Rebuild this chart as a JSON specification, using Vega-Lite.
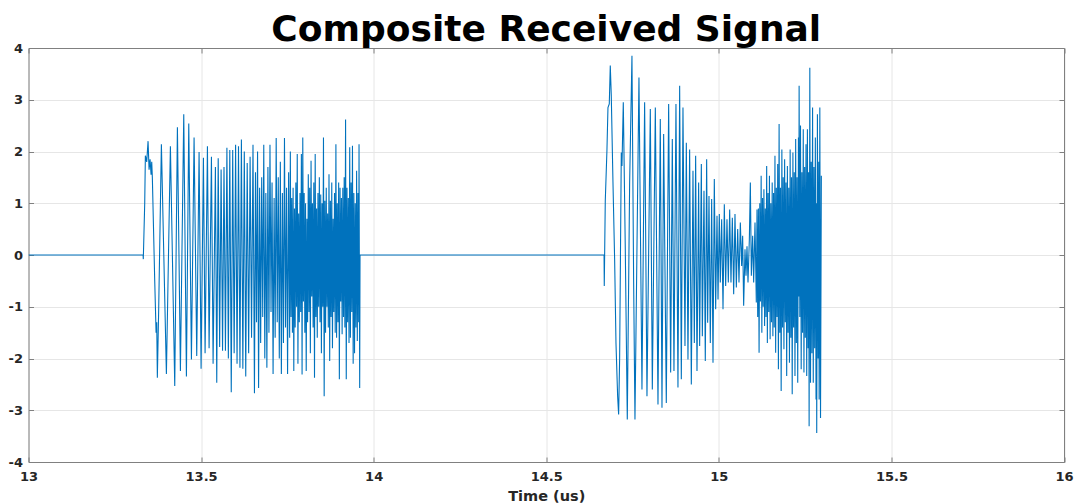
{
  "$schema": "https://vega.github.io/schema/vega-lite/v6.json",
  "autosize": "none",
  "width": 1035.5,
  "height": 414,
  "padding": {"left": 28.5, "top": 48, "right": 14, "bottom": 42},
  "background": "white",
  "title": {"text": "Composite Received Signal", "font": "DejaVu Sans", "fontSize": 36, "fontWeight": "bold", "color": "#000000", "anchor": "middle", "offset": 6, "dy": 13},
  "config": {
    "view": {"stroke": null},
    "axis": {"labelFont": "DejaVu Sans", "labelFontWeight": "bold", "labelFontSize": 13, "labelColor": "#262626", "titleFont": "DejaVu Sans", "titleFontWeight": "bold", "titleFontSize": 14.5, "titleColor": "#262626", "domainColor": "#808080", "tickColor": "#808080", "gridColor": "#e6e6e6", "gridWidth": 1}
  },
  "layer": [
    {
      "data": {"values": [
        {"t":13,"v":0},{"t":13.332,"v":0},{"t":13.3326,"v":-0.08},{"t":13.3367,"v":1.0},{"t":13.3386,"v":1.92},{"t":13.3425,"v":1.8},{"t":13.3464,"v":2.2},{"t":13.3493,"v":1.65},{"t":13.3522,"v":1.85},{"t":13.3551,"v":1.55},{"t":13.357,"v":1.8},{"t":13.3588,"v":1.5},{"t":13.3657,"v":-0.5},{"t":13.3696,"v":-1.5},{"t":13.3715,"v":-1.3},{"t":13.3733,"v":-2.37},{"t":13.3773,"v":-1.0},{"t":13.385,"v":2.14},{"t":13.3995,"v":-2.3},{"t":13.4111,"v":2.1},{"t":13.4237,"v":-2.53},{"t":13.4314,"v":2.47},{"t":13.4401,"v":-2.24},{"t":13.4498,"v":2.72},{"t":13.4575,"v":-2.35},{"t":13.4643,"v":2.54},{"t":13.472,"v":-2.02},{"t":13.4797,"v":2.27},{"t":13.4874,"v":-1.95},{"t":13.4942,"v":1.99},{"t":13.5,"v":-2.2},{"t":13.5068,"v":1.88},{"t":13.5116,"v":-1.9},{"t":13.5184,"v":2.1},{"t":13.5232,"v":-1.8},{"t":13.53,"v":1.9},{"t":13.5348,"v":-2.1},{"t":13.5415,"v":1.7},{"t":13.5454,"v":-2.47},
        {"t":13.5496,"v":1.87},{"t":13.5538,"v":-1.78},{"t":13.558,"v":1.65},{"t":13.5622,"v":-1.85},{"t":13.5664,"v":1.7},{"t":13.5706,"v":-1.85},{"t":13.5748,"v":2.07},{"t":13.579,"v":-2.0},{"t":13.5832,"v":2.03},{"t":13.5874,"v":-2.65},{"t":13.5916,"v":2.03},{"t":13.5958,"v":-1.9},{"t":13.6,"v":2.13},{"t":13.6042,"v":-2.1},{"t":13.6084,"v":2.1},{"t":13.6126,"v":-2.18},{"t":13.6168,"v":2.23},{"t":13.621,"v":-2.2},{"t":13.6252,"v":2.0},{"t":13.6294,"v":-2.35},{"t":13.6336,"v":1.78},{"t":13.6378,"v":-1.9},{"t":13.642,"v":1.9},{"t":13.6462,"v":-1.6},{"t":13.6504,"v":2.13},{"t":13.6546,"v":-2.67},
        {"t":13.6576,"v":1.6},{"t":13.6606,"v":-1.3},{"t":13.6636,"v":2.0},{"t":13.6666,"v":-2.57},{"t":13.6696,"v":1.3},{"t":13.6726,"v":-1.7},{"t":13.6756,"v":1.5},{"t":13.6786,"v":-1.2},{"t":13.6816,"v":2.13},{"t":13.6846,"v":-2.0},{"t":13.6876,"v":1.2},{"t":13.6906,"v":-2.18},{"t":13.6936,"v":1.7},{"t":13.6966,"v":-1.5},{"t":13.6996,"v":2.13},{"t":13.7026,"v":-1.1},{"t":13.7056,"v":1.4},{"t":13.7086,"v":-2.3},{"t":13.7116,"v":1.1},{"t":13.7146,"v":-1.6},{"t":13.7176,"v":2.26},{"t":13.7206,"v":-1.3},{"t":13.7236,"v":1.5},{"t":13.7266,"v":-2.0},{"t":13.7296,"v":1.8},{"t":13.7326,"v":-2.3},{"t":13.7356,"v":1.2},{"t":13.7386,"v":-1.7},{"t":13.7416,"v":2.26},{"t":13.7446,"v":-1.4},{"t":13.7476,"v":1.3},{"t":13.7506,"v":-2.3},{"t":13.7536,"v":1.6},{"t":13.7566,"v":-1.6},
        {"t":13.7586,"v":2.0},{"t":13.7606,"v":-1.2},{"t":13.7626,"v":1.1},{"t":13.7646,"v":-1.5},{"t":13.7666,"v":1.3},{"t":13.7686,"v":-2.24},{"t":13.7706,"v":0.9},{"t":13.7726,"v":-1.4},{"t":13.7746,"v":1.4},{"t":13.7766,"v":-1.0},{"t":13.7786,"v":1.95},{"t":13.7806,"v":-2.1},{"t":13.7826,"v":0.8},{"t":13.7846,"v":-1.3},{"t":13.7866,"v":1.2},{"t":13.7886,"v":-1.1},{"t":13.7906,"v":1.95},{"t":13.7926,"v":-2.31},{"t":13.7946,"v":2.27},{"t":13.7966,"v":-0.9},{"t":13.7986,"v":1.2},{"t":13.8006,"v":-1.5},{"t":13.8026,"v":1.0},{"t":13.8046,"v":-2.24},{"t":13.8066,"v":0.7},{"t":13.8086,"v":-1.3},{"t":13.8106,"v":1.56},{"t":13.8126,"v":-1.1},{"t":13.8146,"v":1.3},{"t":13.8166,"v":-1.9},{"t":13.8186,"v":1.82},{"t":13.8206,"v":-0.8},{"t":13.8226,"v":1.0},{"t":13.8246,"v":-1.4},{"t":13.8266,"v":1.4},{"t":13.8286,"v":-2.37},{"t":13.8306,"v":1.95},{"t":13.8326,"v":-1.2},{"t":13.8346,"v":0.9},{"t":13.8366,"v":-1.6},{"t":13.8386,"v":1.2},{"t":13.8406,"v":-1.0},{"t":13.8426,"v":1.5},{"t":13.8446,"v":-1.3},{"t":13.8466,"v":1.17},{"t":13.8486,"v":-1.9},{"t":13.8506,"v":1.0},{"t":13.8526,"v":-1.0},{"t":13.8546,"v":2.27},{"t":13.8566,"v":-2.73},{"t":13.8586,"v":1.05},{"t":13.8606,"v":-1.5},{"t":13.8626,"v":1.3},{"t":13.8646,"v":-1.0},{"t":13.8666,"v":0.8},{"t":13.8686,"v":-1.4},{"t":13.8706,"v":1.56},{"t":13.8726,"v":-2.05},{"t":13.8746,"v":1.05},{"t":13.8766,"v":-1.2},{"t":13.8786,"v":1.4},{"t":13.8806,"v":-1.8},{"t":13.8826,"v":0.7},{"t":13.8846,"v":-1.1},{"t":13.8866,"v":1.2},{"t":13.8886,"v":-1.5},{"t":13.8906,"v":2.14},{"t":13.8926,"v":-1.6},{"t":13.8946,"v":1.0},{"t":13.8966,"v":-1.3},{"t":13.8986,"v":1.4},{"t":13.9006,"v":-2.4},{"t":13.9026,"v":1.3},{"t":13.9046,"v":-0.9},{"t":13.9066,"v":1.1},{"t":13.9086,"v":-1.53},{"t":13.9106,"v":1.3},{"t":13.9126,"v":-1.2},{"t":13.9146,"v":1.5},{"t":13.9166,"v":-1.4},{"t":13.9186,"v":2.62},{"t":13.9206,"v":-2.4},{"t":13.9226,"v":1.3},{"t":13.9246,"v":-1.3},{"t":13.9266,"v":1.1},{"t":13.9286,"v":-1.7},{"t":13.9306,"v":2.08},{"t":13.9326,"v":-1.6},{"t":13.9346,"v":1.4},{"t":13.9366,"v":-1.1},{"t":13.9386,"v":2.11},{"t":13.9406,"v":-2.1},{"t":13.9426,"v":1.2},{"t":13.9446,"v":-1.9},{"t":13.9466,"v":1.0},{"t":13.9486,"v":-1.4},{"t":13.9506,"v":1.63},{"t":13.9526,"v":-1.66},{"t":13.9546,"v":1.2},{"t":13.9566,"v":-1.3},{"t":13.9576,"v":2.14},{"t":13.9595,"v":-2.57},{"t":13.9605,"v":0},
        {"t":14.6675,"v":0},{"t":14.6681,"v":-0.6},{"t":14.671,"v":1.04},{"t":14.6759,"v":2.04},{"t":14.6788,"v":2.85},{"t":14.6826,"v":2.92},{"t":14.6855,"v":3.66},{"t":14.6884,"v":3.08},{"t":14.6933,"v":1.4},{"t":14.6981,"v":-0.08},{"t":14.702,"v":-1.7},{"t":14.7068,"v":-2.73},{"t":14.7097,"v":-3.08},{"t":14.7126,"v":-2.0},{"t":14.7174,"v":1.98},{"t":14.7194,"v":1.72},{"t":14.7232,"v":2.95},{"t":14.729,"v":0.11},{"t":14.7348,"v":-3.18},{"t":14.7416,"v":1.4},{"t":14.7483,"v":3.85},{"t":14.7532,"v":-0.53},{"t":14.757,"v":-3.18},{"t":14.7686,"v":3.43},{"t":14.7773,"v":-2.6},{"t":14.785,"v":2.95},{"t":14.7918,"v":-2.73},{"t":14.8015,"v":2.82},{"t":14.8073,"v":-2.6},{"t":14.816,"v":2.85},{"t":14.8237,"v":-2.89},{"t":14.8304,"v":2.63},{"t":14.8353,"v":-2.95},{"t":14.8401,"v":2.34},{"t":14.8478,"v":-2.86},{"t":14.8546,"v":2.92},{"t":14.8604,"v":-2.27},{"t":14.8652,"v":2.24},{"t":14.87,"v":-2.24},{"t":14.8758,"v":2.92},{"t":14.8816,"v":-2.56},{"t":14.8865,"v":3.27},{"t":14.8913,"v":-2.4},{"t":14.8961,"v":2.85},{"t":14.9019,"v":-1.76},{"t":14.9058,"v":2.17},{"t":14.9106,"v":-2.02},{"t":14.9154,"v":2.04},{"t":14.9203,"v":-2.5},{"t":14.9251,"v":1.63},{"t":14.929,"v":-1.7},{"t":14.9328,"v":1.92},{"t":14.9367,"v":-2.24},{"t":14.9415,"v":1.4},{"t":14.9444,"v":-1.76},{"t":14.9493,"v":1.76},{"t":14.9522,"v":-1.57},{"t":14.957,"v":1.24},{"t":14.9608,"v":-2.05},{"t":14.9647,"v":1.85},{"t":14.9676,"v":-1.31},{"t":14.9715,"v":1.14},{"t":14.9753,"v":-1.7},{"t":14.9792,"v":1.08},{"t":14.9831,"v":-2.08},{"t":14.9869,"v":1.47},{"t":14.9908,"v":-1.05},{"t":14.9947,"v":0.76},{"t":14.9976,"v":-0.86},{"t":15.0014,"v":0.79},{"t":15.0043,"v":-0.53},{"t":15.0082,"v":0.69},{"t":15.0121,"v":-1.05},{"t":15.0159,"v":0.98},{"t":15.0198,"v":-0.6},{"t":15.0236,"v":0.69},{"t":15.0275,"v":-0.53},{"t":15.0314,"v":0.88},{"t":15.0352,"v":-0.53},{"t":15.0391,"v":0.72},{"t":15.043,"v":-0.76},{"t":15.0468,"v":0.79},{"t":15.0507,"v":-0.63},{"t":15.0546,"v":0.5},{"t":15.0584,"v":-0.53},{"t":15.0623,"v":0.63},{"t":15.0661,"v":-0.21},{"t":15.069,"v":0.37},{"t":15.0719,"v":-0.98},{"t":15.0758,"v":0.11},{"t":15.0787,"v":-0.4},{"t":15.0816,"v":0.17},{"t":15.0845,"v":-0.53},{"t":15.0884,"v":0.3},{"t":15.0913,"v":1.4},{"t":15.0942,"v":-0.4},{"t":15.098,"v":0.37},{"t":15.1009,"v":-0.53},{"t":15.1048,"v":0.63},{"t":15.1086,"v":-0.92},
        {"t":15.1106,"v":0.88},{"t":15.1126,"v":-1.2},{"t":15.1146,"v":0.9},{"t":15.1166,"v":-1.89},{"t":15.1186,"v":1.0},{"t":15.1206,"v":-0.9},{"t":15.1226,"v":1.53},{"t":15.1246,"v":-1.5},{"t":15.1266,"v":1.1},{"t":15.1286,"v":-1.0},{"t":15.1306,"v":1.27},{"t":15.1326,"v":-1.37},{"t":15.1346,"v":0.9},{"t":15.1366,"v":-1.2},{"t":15.1386,"v":1.72},{"t":15.1406,"v":-1.7},{"t":15.1426,"v":1.2},{"t":15.1446,"v":-1.1},{"t":15.1466,"v":1.53},{"t":15.1486,"v":-1.63},{"t":15.1506,"v":1.0},{"t":15.1526,"v":-1.3},{"t":15.1546,"v":1.4},{"t":15.1566,"v":-1.57},{"t":15.1586,"v":1.2},{"t":15.1606,"v":-1.4},{"t":15.1626,"v":1.92},{"t":15.1646,"v":-1.89},{"t":15.1666,"v":1.3},{"t":15.1686,"v":-1.2},{"t":15.1706,"v":1.76},{"t":15.1726,"v":-2.21},{"t":15.1746,"v":2.53},{"t":15.1766,"v":-1.5},{"t":15.1786,"v":1.3},{"t":15.1806,"v":-2.63},{"t":15.1826,"v":2.04},{"t":15.1846,"v":-1.4},{"t":15.1866,"v":1.5},{"t":15.1886,"v":-1.82},{"t":15.1906,"v":1.85},{"t":15.1926,"v":-1.3},{"t":15.1946,"v":1.4},{"t":15.1966,"v":-2.34},{"t":15.1986,"v":1.72},{"t":15.2006,"v":-1.5},{"t":15.2026,"v":1.3},{"t":15.2046,"v":-2.08},{"t":15.2066,"v":2.04},{"t":15.2086,"v":-1.6},{"t":15.2106,"v":1.5},{"t":15.2126,"v":-2.69},{"t":15.2146,"v":1.98},{"t":15.2166,"v":-1.4},{"t":15.2186,"v":1.6},{"t":15.2206,"v":-2.34},{"t":15.2226,"v":2.24},{"t":15.2246,"v":-1.7},{"t":15.2266,"v":1.5},{"t":15.2286,"v":-2.47},{"t":15.2306,"v":2.27},{"t":15.2316,"v":-0.8},{"t":15.2326,"v":3.27},{"t":15.2346,"v":-1.2},{"t":15.2366,"v":2.5},{"t":15.2386,"v":-2.21},{"t":15.2406,"v":1.6},{"t":15.2426,"v":-1.5},{"t":15.2446,"v":2.43},{"t":15.2466,"v":-2.27},{"t":15.2486,"v":1.7},{"t":15.2506,"v":-1.6},{"t":15.2526,"v":2.14},{"t":15.2546,"v":-2.34},{"t":15.2566,"v":2.43},{"t":15.2586,"v":-1.8},{"t":15.2601,"v":1.6},{"t":15.2616,"v":-3.31},{"t":15.2636,"v":3.62},{"t":15.2656,"v":-2.47},{"t":15.2676,"v":1.8},{"t":15.2696,"v":-1.9},{"t":15.2716,"v":2.85},{"t":15.2736,"v":-2.47},{"t":15.2756,"v":1.7},{"t":15.2776,"v":-1.8},{"t":15.2796,"v":2.27},{"t":15.2816,"v":-2.79},{"t":15.2826,"v":1.0},{"t":15.2836,"v":-3.44},{"t":15.2856,"v":2.72},{"t":15.2876,"v":-2.0},{"t":15.2896,"v":1.8},{"t":15.2906,"v":-2.79},{"t":15.2926,"v":2.85},{"t":15.2946,"v":-3.15},{"t":15.297,"v":1.53}
      ]},
      "mark": {"type": "line", "color": "#0072BD", "strokeWidth": 1.1, "clip": true},
      "encoding": {
        "x": {"field": "t", "type": "quantitative", "scale": {"domain": [13, 16], "nice": false, "zero": false},
              "axis": {"orient": "bottom", "values": [13, 13.5, 14, 14.5, 15, 15.5, 16], "labelExpr": "datum.value + ''", "title": "Time (us)", "grid": true, "tickSize": -5, "labelPadding": 13, "titlePadding": 6, "labelFlush": false}},
        "y": {"field": "v", "type": "quantitative", "scale": {"domain": [-4, 4], "nice": false, "zero": false},
              "axis": {"orient": "left", "values": [-4, -3, -2, -1, 0, 1, 2, 3, 4], "labelExpr": "datum.value + ''", "title": null, "grid": true, "tickSize": -5, "labelPadding": 11, "labelFlush": false}}
      }
    },
    {
      "data": {"values": [{"t": 13, "v": -4}, {"t": 16, "v": 4}]},
      "mark": {"type": "point", "opacity": 0},
      "encoding": {
        "x": {"field": "t", "type": "quantitative", "axis": {"orient": "top", "values": [13, 13.5, 14, 14.5, 15, 15.5, 16], "labels": false, "title": null, "grid": false, "tickSize": -5}},
        "y": {"field": "v", "type": "quantitative", "axis": {"orient": "right", "values": [-4, -3, -2, -1, 0, 1, 2, 3, 4], "labels": false, "title": null, "grid": false, "tickSize": -5}}
      }
    }
  ],
  "resolve": {"axis": {"x": "independent", "y": "independent"}}
}
